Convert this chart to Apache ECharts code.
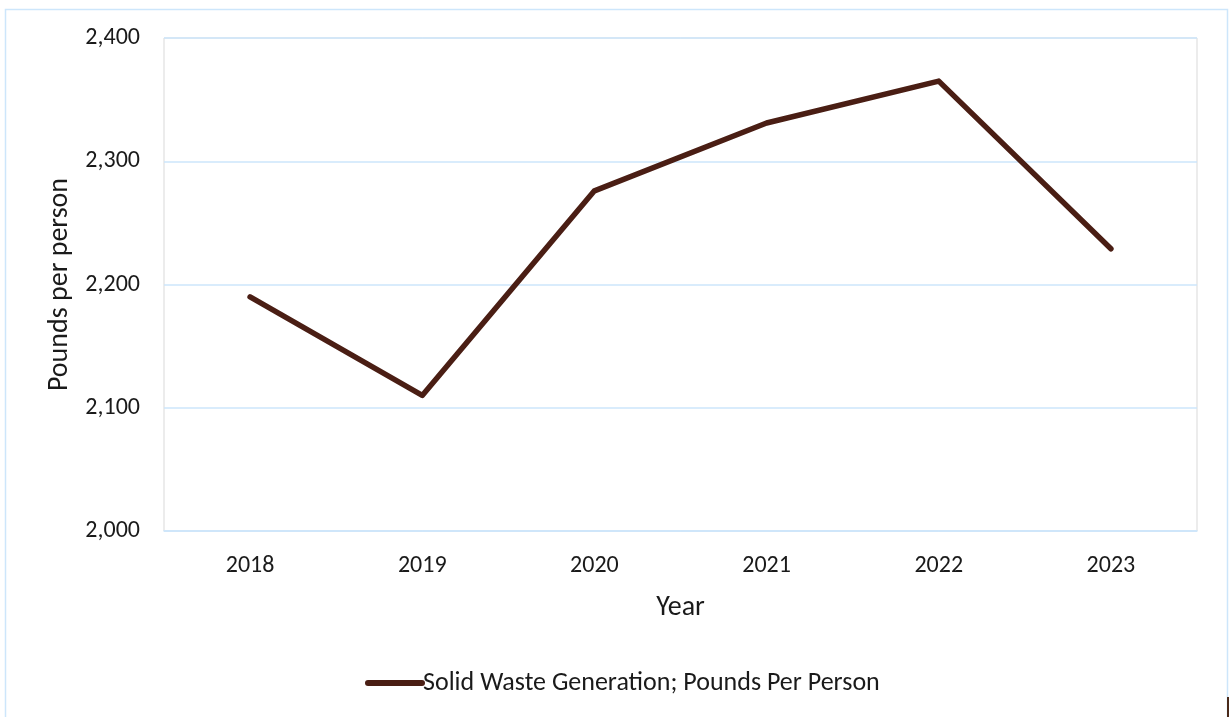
<!DOCTYPE html>
<html>
<head>
<meta charset="utf-8">
<script src="https://cdn.jsdelivr.net/npm/echarts@6/dist/echarts.min.js"></script>
<style>
html,body{margin:0;padding:0;background:#fff;}
#chart{width:1231px;height:717px;}
</style>
</head>
<body>
<div id="chart"></div>
<script>
const years = ['2018', '2019', '2020', '2021', '2022', '2023'];
const poundsPerPerson = [2190, 2110, 2276, 2331, 2365, 2229];
const seriesName = 'Solid Waste Generation; Pounds Per Person';
const yMin = 2000, yMax = 2400, yStep = 100;

const FONT = 'Carlito, "Open Sans", sans-serif';
const chart = echarts.init(document.getElementById('chart'));
chart.setOption({
  backgroundColor: '#ffffff',
  animation: false,
  textStyle: { fontFamily: FONT },
  graphic: [
    { type: 'rect', shape: { x: 5.5, y: 9.5, width: 1222, height: 720 },
      style: { fill: 'none', stroke: '#cde6fb', lineWidth: 1.5 }, silent: true },
    { type: 'rect', shape: { x: 1227, y: 697, width: 2, height: 20 },
      style: { fill: '#4a2a1a' }, silent: true }
  ],
  grid: { left: 164, right: 34, top: 38, bottom: 186, show: true, borderColor: '#d9d9d9', borderWidth: 1, backgroundColor: 'transparent' },
  legend: {
    top: 665, left: 360,
    itemWidth: 60, itemHeight: 6, itemGap: 20,
    icon: 'path://M3,0 L57,0 A3,3 0 0 1 57,6 L3,6 A3,3 0 0 1 3,0 Z',
    textStyle: { fontSize: 26, color: '#1a1a1a', fontFamily: FONT, padding: [0,0,0,-7] },
    data: [{ name: seriesName }]
  },
  xAxis: {
    type: 'category', data: years, boundaryGap: true,
    name: 'Year', nameLocation: 'middle', nameGap: 63,
    nameTextStyle: { fontSize: 28, color: '#1a1a1a', fontFamily: FONT },
    axisLine: { show: true, lineStyle: { color: '#cde6fb', width: 1.5 } },
    axisTick: { show: false },
    axisLabel: { fontSize: 24, color: '#1a1a1a', margin: 23, fontFamily: FONT },
    splitLine: { show: false }
  },
  yAxis: {
    type: 'value', min: yMin, max: yMax, interval: yStep,
    name: 'Pounds per person', nameLocation: 'middle', nameGap: 90,
    nameTextStyle: { fontSize: 28, color: '#1a1a1a', fontFamily: FONT },
    axisLine: { show: false }, axisTick: { show: false },
    axisLabel: { fontSize: 24, color: '#1a1a1a', margin: 24, fontFamily: FONT,
      formatter: v => v.toLocaleString('en-US') },
    splitLine: { show: true, lineStyle: { color: '#cde6fb', width: 1.5 } }
  },
  series: [{
    name: seriesName, type: 'line', data: poundsPerPerson,
    symbol: 'none', smooth: false,
    lineStyle: { color: '#4a1e14', width: 5.5, cap: 'round', join: 'round' },
    itemStyle: { color: '#4a1e14' }
  }]
});
</script>
</body>
</html>
